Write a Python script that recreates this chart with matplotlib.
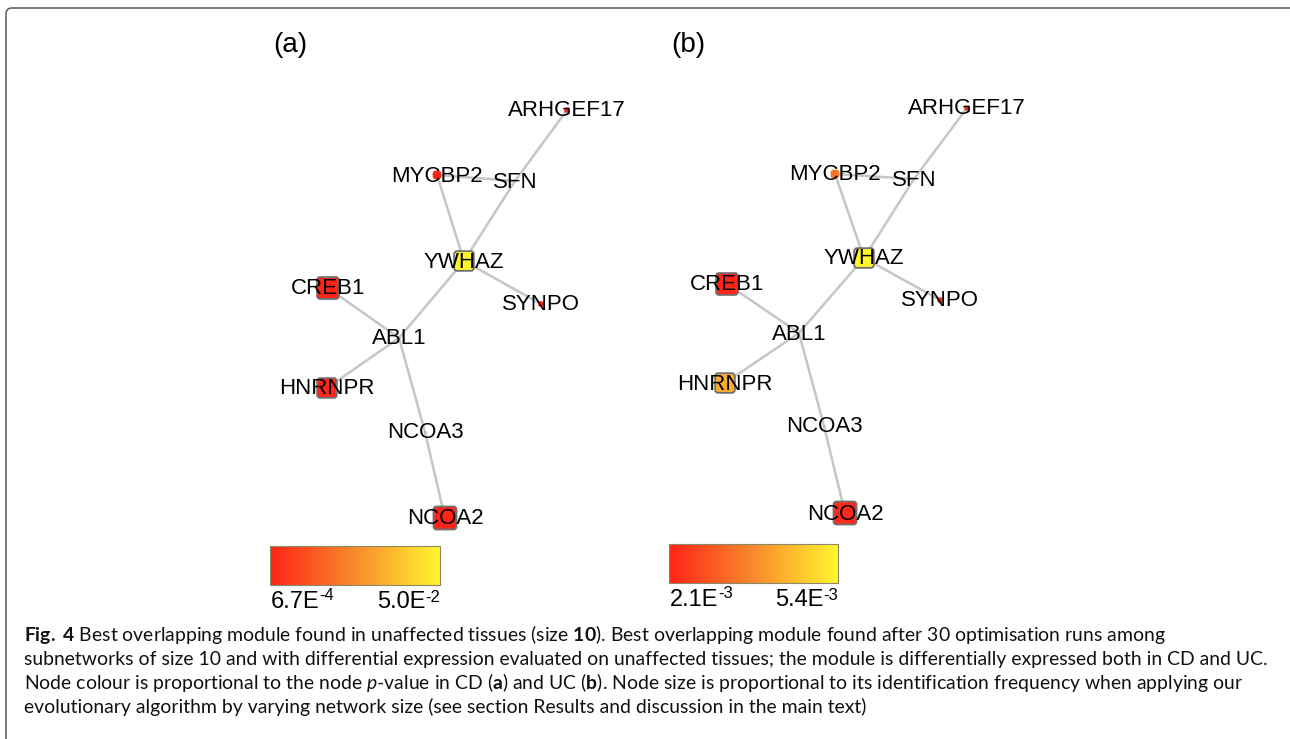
import matplotlib
matplotlib.use("Agg")
import matplotlib.pyplot as plt
from matplotlib.patches import FancyBboxPatch, PathPatch
from matplotlib.path import Path
from matplotlib.colors import LinearSegmentedColormap, Normalize
from matplotlib.cm import ScalarMappable

# network data
genes = ["ARHGEF17", "MYCBP2", "SFN", "YWHAZ", "SYNPO", "CREB1", "ABL1", "HNRNPR", "NCOA3", "NCOA2"]
edges = [("MYCBP2", "SFN"), ("SFN", "ARHGEF17"), ("SFN", "YWHAZ"), ("MYCBP2", "YWHAZ"),
         ("YWHAZ", "SYNPO"), ("YWHAZ", "ABL1"), ("CREB1", "ABL1"), ("ABL1", "HNRNPR"),
         ("ABL1", "NCOA3"), ("NCOA3", "NCOA2")]

# layout positions
xa = [567, 437, 515, 464, 541, 328, 399, 327, 425, 445]
ya = [110, 175, 181, 261, 304, 288, 338, 388, 432, 518]
xb = [967, 835, 914, 864, 940, 727, 799, 725, 824, 845]
yb = [108, 174, 179, 258, 300, 284, 333, 383, 426, 513]

# identification frequency (node size), estimated
freq = [0.2, 0.35, 0.0, 0.85, 0.2, 0.95, 0.0, 0.85, 0.0, 1.0]

# node p-values, CD (a) and UC (b)
pval_a = [1.0e-3, 1.5e-3, 2.0e-3, 5.0e-2, 1.0e-3, 8.0e-4, 2.0e-3, 1.2e-3, 2.0e-3, 6.7e-4]
pval_b = [2.3e-3, 3.4e-3, 2.5e-3, 5.4e-3, 2.3e-3, 2.1e-3, 2.5e-3, 4.3e-3, 2.5e-3, 2.2e-3]
range_a = (6.7e-4, 5.0e-2)
range_b = (2.1e-3, 5.4e-3)
labels_a = ("6.7E", "-4", "5.0E", "-2")
labels_b = ("2.1E", "-3", "5.4E", "-3")

caption = [
    r"$\mathbf{Fig.}$ $\mathbf{4}$ Best overlapping module found in unaffected tissues (size $\mathbf{10}$). Best overlapping module found after 30 optimisation runs among",
    "subnetworks of size 10 and with differential expression evaluated on unaffected tissues; the module is differentially expressed both in CD and UC.",
    r"Node colour is proportional to the node $\mathit{p}$-value in CD ($\mathbf{a}$) and UC ($\mathbf{b}$). Node size is proportional to its identification frequency when applying our",
    "evolutionary algorithm by varying network size (see section Results and discussion in the main text)",
]

plt.rcParams['mathtext.fontset'] = 'custom'
plt.rcParams['mathtext.rm'] = 'Lato'
plt.rcParams['mathtext.it'] = 'Lato:italic'
plt.rcParams['mathtext.bf'] = 'Lato:bold'

cmap = LinearSegmentedColormap.from_list("pv", ["#ff2418", "#f98a2c", "#fff52e"])

W, H = 1290, 739
fig = plt.figure(figsize=(W / 100, H / 100), dpi=100)
ax = fig.add_axes([0, 0, 1, 1])
ax.set_xlim(0, W)
ax.set_ylim(H, 0)
ax.axis('off')

# frame
verts = [(6, H + 5), (6, 14), (6, 8), (12, 8), (W + 5, 8)]
codes = [Path.MOVETO, Path.LINETO, Path.CURVE3, Path.CURVE3, Path.LINETO]
ax.add_patch(PathPatch(Path(verts, codes), fill=False, ec="#666666", lw=1.2))


def draw_net(xs, ys, pv, rng, title, title_x):
    idx = {g: i for i, g in enumerate(genes)}
    norm = Normalize(*rng)
    for a, b in edges:
        i, j = idx[a], idx[b]
        ax.plot([xs[i], xs[j]], [ys[i], ys[j]], color="#c6c6c6", lw=1.8, zorder=1,
                solid_capstyle='round')
    for i, g in enumerate(genes):
        s = 1 + 22 * freq[i]
        col = cmap(norm(pv[i]))
        ax.add_patch(FancyBboxPatch((xs[i] - s / 2, ys[i] - s / 2), s, s,
                                    boxstyle="round,pad=0,rounding_size=%.1f" % min(3, s / 3),
                                    fc=col, ec="#707070" if s > 10 else col,
                                    lw=1.3 if s > 10 else 0, zorder=2))
        ax.text(xs[i], ys[i] + 1, g, ha='center', va='center', fontsize=16,
                family='Liberation Sans', color='black', zorder=3)
    ax.text(title_x, 45, title, ha='center', va='center', fontsize=20,
            family='Liberation Sans')


draw_net(xa, ya, pval_a, range_a, "(a)", 290)
draw_net(xb, yb, pval_b, range_b, "(b)", 688)


def draw_cbar(x0, y0, w, h, rng, labs):
    cax = fig.add_axes([x0 / W, 1 - (y0 + h) / H, w / W, h / H])
    cb = fig.colorbar(ScalarMappable(Normalize(*rng), cmap), cax=cax, orientation='horizontal')
    cb.set_ticks([])
    cb.outline.set_edgecolor("#8a8a6a")
    cb.outline.set_linewidth(0.8)
    ty = y0 + h + 17
    t1 = ax.text(x0 + 1, ty, labs[0], ha='left', va='center', fontsize=17, family='Liberation Sans')
    ax.annotate(labs[1], xy=(1, 0.8), xycoords=t1, ha='left', va='center', fontsize=12,
                family='Liberation Sans')
    ax.text(x0 + w, ty - 5, labs[3], ha='right', va='center', fontsize=12, family='Liberation Sans')
    ax.text(x0 + w - 14, ty, labs[2], ha='right', va='center', fontsize=17, family='Liberation Sans')


draw_cbar(270, 546, 170, 39, range_a, labels_a)
draw_cbar(669, 544, 169, 39, range_b, labels_b)

# caption
base = [641, 665, 689, 713]
caps = []
for line, yy in zip(caption, base):
    caps.append(ax.text(24, yy, line, ha='left', va='baseline', fontsize=12,
                        family='Lato', color='#111111'))
fig.canvas.draw()
r = fig.canvas.get_renderer()
wid = caps[1].get_window_extent(r).width
scale = 1240 / wid
for t in caps:
    t.set_fontsize(12 * scale)

fig.savefig("out.png", dpi=100)
